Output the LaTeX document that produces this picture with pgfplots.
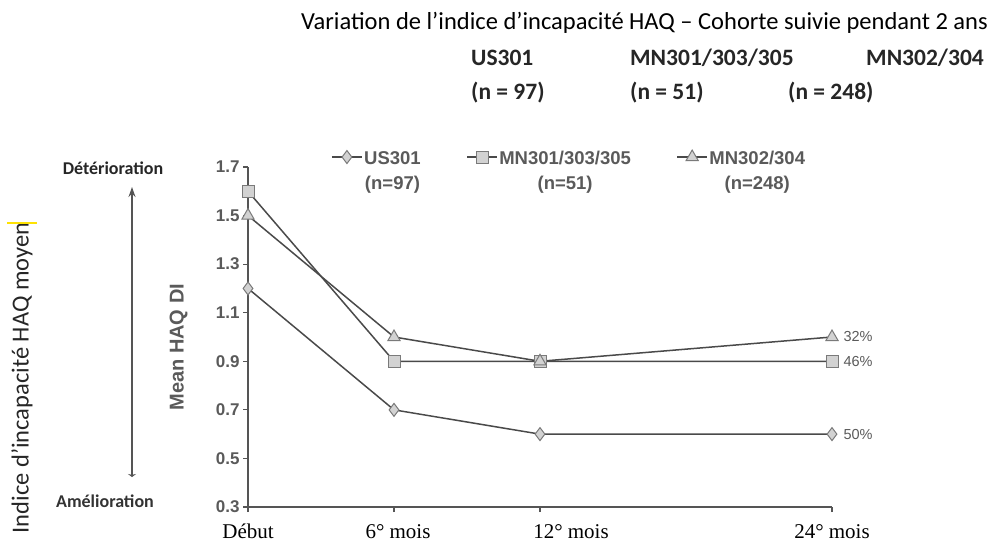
\documentclass[border=0pt]{standalone}
\usepackage{pgfplots}
\pgfplotsset{compat=1.18}
\usepackage{fontspec}
\setmainfont{Carlito}
\newfontfamily\arialf{Liberation Sans}
\newfontfamily\timesf{Liberation Serif}
\usetikzlibrary{arrows.meta}
\definecolor{linegray}{HTML}{4A4A4A}
\definecolor{markfill}{HTML}{D2D2D2}
\definecolor{markdraw}{HTML}{7A7A7A}
\definecolor{txtgray}{HTML}{5A5A5A}
\definecolor{axgray}{HTML}{555555}
\begin{document}
\begin{tikzpicture}[x=1pt,y=1pt]
\useasboundingbox (0,0) rectangle (995,-548);
% title and headers
\node[anchor=east, inner sep=0pt, font=\fontsize{24.5}{28}\selectfont] at (988,-23) {Variation de l’indice d’incapacité HAQ – Cohorte suivie pendant 2 ans};
\begin{scope}[every node/.style={anchor=base west, inner sep=0pt, font=\fontsize{23.5}{28}\selectfont\bfseries, text=black!85}]
\node at (471,-66) {US301};
\node at (630,-66) {MN301/303/305};
\node at (866,-66) {MN302/304};
\node at (471,-100) {(n = 97)};
\node at (630,-100) {(n = 51)};
\node at (788,-100) {(n = 248)};
\end{scope}
% left annotations
\node[rotate=90, inner sep=0pt, font=\fontsize{24.5}{28}\selectfont, text=black!85] at (22,-378) {Indice d’incapacité HAQ moyen};
\draw[yellow!85!orange, line width=1.2pt] (7,-223) -- (37,-223);
\node[inner sep=0pt, font=\fontsize{18}{20}\selectfont\bfseries, text=black!85] at (113,-168) {Détérioration};
\node[inner sep=0pt, font=\fontsize{18}{20}\selectfont\bfseries, text=black!80] at (105,-501) {Amélioration};
\draw[axgray, line width=1.3pt, {Stealth[length=3pt,width=8pt]}-{Stealth[length=10pt,width=7pt]}] (132,-477) -- (132,-187);
\begin{axis}[
  scale only axis, width=584pt, height=340pt,
  at={(248pt,-507pt)}, anchor=south west,
  xmin=0, xmax=24, ymin=0.3, ymax=1.7,
  axis lines*=left,
  axis line style={axgray, line width=1.3pt},
  tick style={axgray, line width=1.1pt},
  tick align=outside, major tick length=5pt,
  xtick={0,6,12,24},
  xticklabels={Début, \hspace*{8pt}6° mois, \hspace*{62pt}12° mois, 24° mois},
  x tick label style={font=\timesf\fontsize{21}{24}\selectfont, text=black, text height=15pt, text depth=5pt, yshift=-8pt},
  ytick={0.3,0.5,0.7,0.9,1.1,1.3,1.5,1.7},
  y tick label style={font=\arialf\bfseries\fontsize{17}{20}\selectfont, text=txtgray, /pgf/number format/.cd, fixed, fixed zerofill, precision=1, assume math mode=true},
  ylabel={Mean HAQ DI},
  ylabel style={font=\arialf\bfseries\fontsize{20}{24}\selectfont, text=txtgray, at={(-57pt,0.47)}, anchor=south},
  clip=false,
  legend columns=3,
  legend style={draw=none, fill=none, at={(0.137,1.065)}, anchor=north west,
    font=\arialf\bfseries\fontsize{18.5}{22}\selectfont, text=txtgray,
    /tikz/every even column/.append style={column sep=44pt},
    nodes={inner sep=1.5pt}},
  legend image code/.code={\draw[mark repeat=2, mark phase=2] plot coordinates {(0pt,0pt) (15pt,0pt) (30pt,0pt)};},
  every axis plot/.append style={line width=1.5pt, color=linegray, mark options={fill=markfill, draw=markdraw, line width=1pt, solid}},
]
\addplot[mark=diamond*, mark size=6.5pt] coordinates {(0,1.2) (6,0.7) (12,0.6) (24,0.6)};
\addlegendentry{\begin{tabular}[t]{@{}c@{}}US301\\[3pt](n=97)\end{tabular}}
\addplot[mark=square*, mark size=6pt] coordinates {(0,1.6) (6,0.9) (12,0.9) (24,0.9)};
\addlegendentry{\begin{tabular}[t]{@{}c@{}}MN301/303/305\\[3pt](n=51)\end{tabular}}
\addplot[mark=triangle*, mark size=7pt] coordinates {(0,1.5) (6,1.0) (12,0.9) (24,1.0)};
\addlegendentry{\begin{tabular}[t]{@{}c@{}}MN302/304\\[3pt](n=248)\end{tabular}}
\node[anchor=west, font=\arialf\fontsize{14.5}{17}\selectfont, text=txtgray] at (axis cs:24,1.0) [xshift=8pt] {32\%};
\node[anchor=west, font=\arialf\fontsize{14.5}{17}\selectfont, text=txtgray] at (axis cs:24,0.9) [xshift=8pt] {46\%};
\node[anchor=west, font=\arialf\fontsize{14.5}{17}\selectfont, text=txtgray] at (axis cs:24,0.6) [xshift=8pt] {50\%};
\end{axis}
\end{tikzpicture}
\end{document}
